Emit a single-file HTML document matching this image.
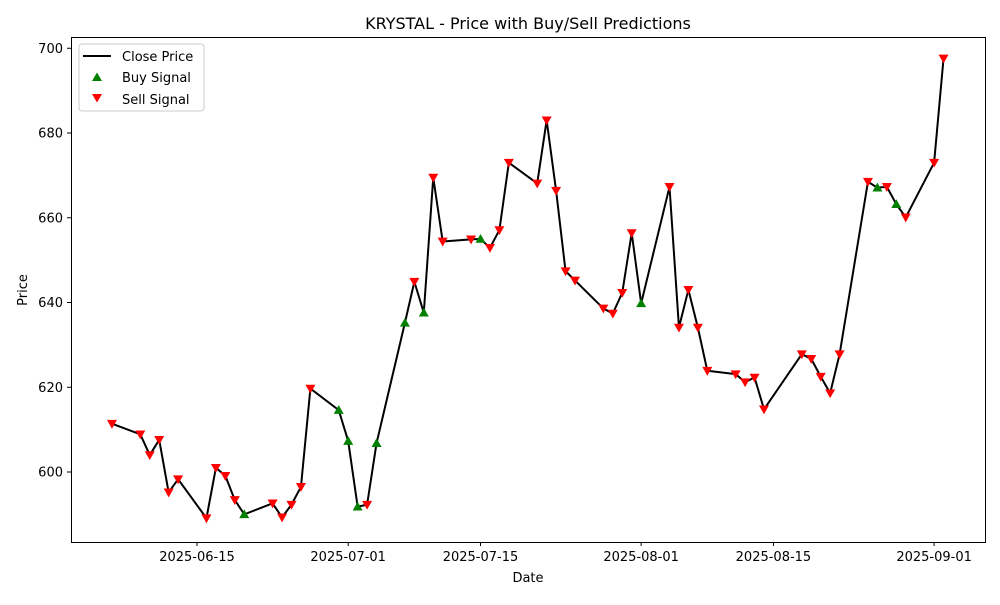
<!DOCTYPE html>
<html><head><meta charset="utf-8"><style>
body{margin:0;background:#fff;}
svg text{font-family:"DejaVu Sans","Liberation Sans",sans-serif;}
</style></head><body>
<svg id="chart" width="1000" height="600" xmlns="http://www.w3.org/2000/svg">
<rect width="1000" height="600" fill="#fff"/>
<text x="528" y="29" font-size="16" text-anchor="middle">KRYSTAL - Price with Buy/Sell Predictions</text>
<g id="grid"></g>
<g id="series"></g>
<rect x="71.5" y="37.5" width="914" height="505" fill="none" stroke="#000" stroke-width="1"/>
<text x="528" y="582" font-size="13" text-anchor="middle">Date</text>
<text x="27" y="290" font-size="13" text-anchor="middle" transform="rotate(-90 27 290)">Price</text>
<g>
<rect x="79" y="44" width="125" height="67" rx="3" fill="#fff" stroke="#ccc"/>
<line x1="83" y1="56" x2="111" y2="56" stroke="#000" stroke-width="2"/>
<text x="122" y="61" font-size="13">Close Price</text>
<polygon points="97,72.5 92,81 102,81" fill="green"/>
<text x="122" y="82" font-size="13">Buy Signal</text>
<polygon points="92,94 102,94 97,102.5" fill="red"/>
<text x="122" y="104" font-size="13">Sell Signal</text>
</g>
</svg>
<script>
// day offsets from 2025-06-15
const days=[-9,-6,-5,-4,-3,-2,1,2,3,4,5,8,9,10,11,12,15,16,17,18,19,22,23,24,25,26,29,30,31,32,33,36,37,38,39,40,43,44,45,46,47,50,51,52,53,54,57,58,59,60,64,65,66,67,68,71,72,73,74,75,78,79];
const prices=[611.4,608.9,604,607.6,595.2,598.3,589.1,601,599.1,593.4,590,592.6,589.3,592.3,596.5,619.7,614.6,607.3,591.8,592.3,606.8,635.2,644.9,637.6,669.5,654.4,654.9,655,652.9,657.1,673,668.1,683,666.4,647.4,645.2,638.6,637.4,642.3,656.4,639.8,667.3,634.1,643,634.1,623.9,623.1,621.2,622.3,614.8,627.8,626.7,622.5,618.6,627.8,668.5,667.1,667.3,663.2,660.1,673,697.6];
const signals=["S","S","S","S","S","S","S","S","S","S","B","S","S","S","S","S","B","B","B","S","B","B","S","B","S","S","S","B","S","S","S","S","S","S","S","S","S","S","S","S","B","S","S","S","S","S","S","S","S","S","S","S","S","S","S","S","B","S","B","S","S","S"];
const yTicks=[600,620,640,660,680,700];
const xTickDays=[0,16,30,47,61,78];
const xTickLabels=["2025-06-15","2025-07-01","2025-07-15","2025-08-01","2025-08-15","2025-09-01"];
const NS="http://www.w3.org/2000/svg";
const X=d=>197+d*9.45;
const Y=v=>472-(v-600)*4.2375;
const svg=document.getElementById('chart');
const grid=document.getElementById('grid');
const ser=document.getElementById('series');
function mk(t,a,p){const e=document.createElementNS(NS,t);for(const k in a)e.setAttribute(k,a[k]);(p||svg).appendChild(e);return e;}
yTicks.forEach(v=>{
 const y=Y(v);
 const l=mk('line',{x1:67,x2:71,y1:y,y2:y,stroke:'#000'},grid);
 
 
 const t=mk('text',{x:63,y:y+4.5,'font-size':13,'text-anchor':'end'},grid);
 
 
 t.textContent=v;
});
xTickDays.forEach((d,i)=>{
 const x=X(d);
 const l=mk('line',{x1:x,x2:x,y1:542,y2:546,stroke:'#000'},grid);
 
 
 const t=mk('text',{x:x,y:561,'font-size':13,'text-anchor':'middle'},grid);
 
 
 t.textContent=xTickLabels[i];
});
const pl=mk('polyline',{points:days.map((d,i)=>X(d)+','+Y(prices[i])).join(' '),fill:'none',stroke:'#000','stroke-width':2,'stroke-linejoin':'round'},ser);


days.forEach((d,i)=>{
 const x=X(d),y=Y(prices[i]);
 let p;
 if(signals[i]==='B'){
  p=mk('polygon',{points:`${x},${y-5} ${x-5},${y+3.8} ${x+5},${y+3.8}`,fill:'green'},ser);
  
 } else {
  p=mk('polygon',{points:`${x-5},${y-3.8} ${x+5},${y-3.8} ${x},${y+5}`,fill:'red'},ser);
  
 }
 
});
</script>
</body></html>
